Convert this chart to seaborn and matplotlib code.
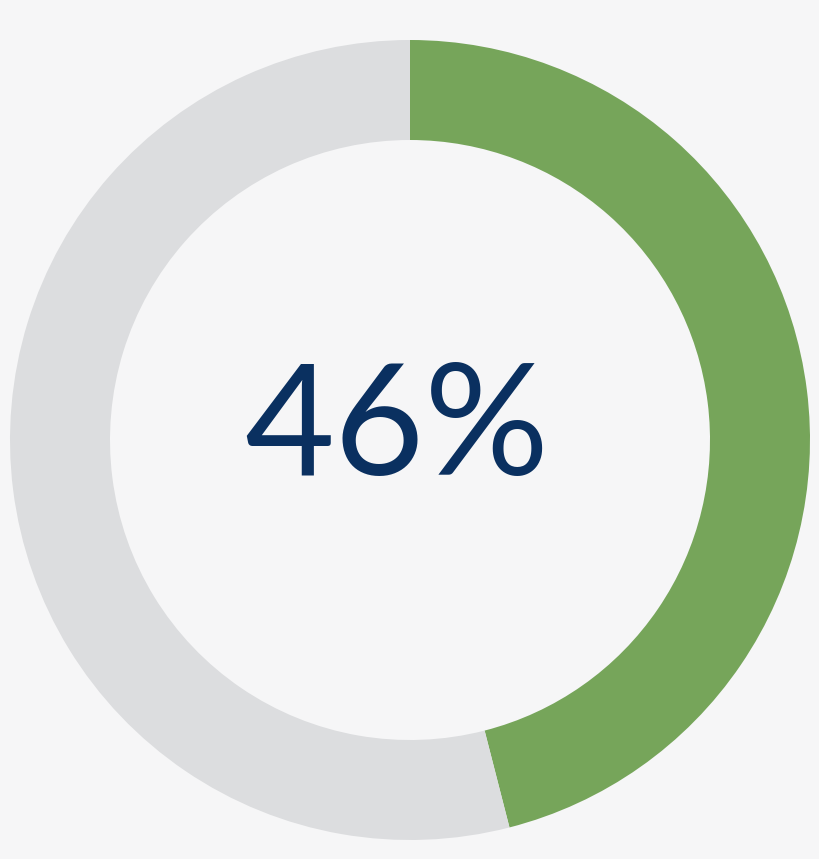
import matplotlib
matplotlib.use("Agg")
import matplotlib.pyplot as plt
import seaborn as sns

labels = ["Yes", "Other"]
values = [46, 54]
center_label = "46%"
colors = ["#76a55a", "#dcdddf"]
bg = "#f6f6f7"

sns.set_theme(style="white")
plt.rcParams['font.family'] = ['Lato', 'DejaVu Sans']

fig = plt.figure(figsize=(8.2, 8.59), dpi=100, facecolor=bg)
ax = fig.add_axes([0, 0, 1, 1])
ax.set_facecolor(bg)
ax.pie(values, colors=colors, startangle=90, counterclock=False,
       center=(410, 859 - 440), radius=400,
       wedgeprops=dict(width=100, linewidth=0, edgecolor="none"))
ax.set_xlim(0, 820)
ax.set_ylim(0, 859)
ax.set_aspect("equal")
ax.axis("off")
ax.text(397, 859 - 475, center_label, ha="center", va="baseline",
        fontsize=112, color="#0a3060", fontweight="normal")
fig.savefig("out.png", dpi=100, facecolor=bg)
